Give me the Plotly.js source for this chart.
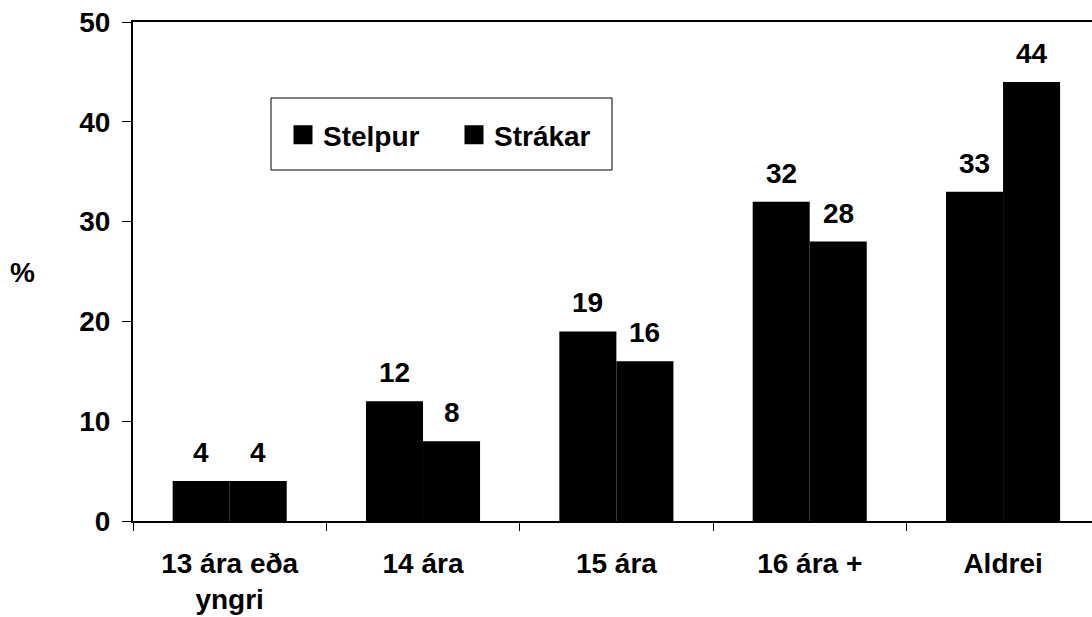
<!DOCTYPE html>
<html>
<head>
<meta charset="utf-8">
<script src="https://cdn.plot.ly/plotly-3.0.1.min.js"></script>
<style>html,body{margin:0;padding:0;background:#fff;}#chart{width:1092px;height:617px;}</style>
</head>
<body>
<div id="chart"></div>
<script>
const categories = ["13 ára eða<br>yngri", "14 ára", "15 ára", "16 ára +", "Aldrei"];
const seriesNames = ["Stelpur", "Strákar"];
const stelpur = [4, 12, 19, 32, 33];
const strakar = [4, 8, 16, 28, 44];
const yTicks = [0, 10, 20, 30, 40, 50];

const FONT = "Liberation Sans, Arial, sans-serif";
const font = {family: FONT, size: 28, color: "#000", weight: "bold"};

const traces = [
  {type: "bar", name: seriesNames[0], x: categories, y: stelpur, marker: {color: "#000"}, showlegend: false, hoverinfo: "none"},
  {type: "bar", name: seriesNames[1], x: categories, y: strakar, marker: {color: "#000"}, showlegend: false, hoverinfo: "none"},
  // legend entries
  {type: "scatter", mode: "markers", name: seriesNames[0], x: [null], y: [null], marker: {symbol: "square", size: 16, color: "#000", line: {color: "#000", width: 3}}},
  {type: "scatter", mode: "markers", name: seriesNames[1], x: [null], y: [null], marker: {symbol: "square", size: 16, color: "#000", line: {color: "#000", width: 3}}}
];

const barPx = 57;  // group width in px (two bars)
const annotations = [];
[stelpur, strakar].forEach((vals, s) => {
  vals.forEach((v, i) => {
    annotations.push({
      x: categories[i], y: v, xref: "x", yref: "y",
      text: String(v), showarrow: false,
      xanchor: "center", yanchor: "bottom",
      xshift: (s === 0 ? -1 : 1) * barPx / 2, yshift: 11,
      font: font
    });
  });
});
annotations.push({
  xref: "paper", yref: "paper", x: (22 - 133) / 959, y: (521 - 272) / 499,
  text: "%", showarrow: false, xanchor: "center", yanchor: "middle", font: font
});

const layout = {
  width: 1092, height: 617,
  margin: {l: 133, r: 0, t: 22, b: 96, pad: 0},
  paper_bgcolor: "#fff", plot_bgcolor: "#fff",
  font: font,
  barmode: "group", bargap: 0.41, bargroupgap: 0,
  showlegend: true,
  legend: {
    orientation: "h", x: (283 - 133) / 959, xanchor: "left",
    y: (521 - 135) / 499, yanchor: "middle",
    font: font, bgcolor: "rgba(0,0,0,0)", borderwidth: 0,
    entrywidth: 126, entrywidthmode: "pixels", itemclick: false
  },
  xaxis: {
    type: "category", range: [-0.5, 4.46], autorange: false,
    showline: true, linecolor: "#000", linewidth: 2, mirror: true,
    ticks: "outside", tickson: "boundaries", ticklen: 8, tickcolor: "#000", tickwidth: 1,
    tickfont: font, ticklabelstandoff: 16,
    showgrid: false, zeroline: false, fixedrange: true
  },
  yaxis: {
    range: [0, 50], autorange: false,
    tickvals: yTicks, ticktext: yTicks.map(String),
    showline: true, linecolor: "#000", linewidth: 2, mirror: false,
    ticks: "outside", ticklen: 9, tickcolor: "#000", tickwidth: 1,
    tickfont: font, ticklabelstandoff: 6,
    showgrid: false, zeroline: false, fixedrange: true
  },
  shapes: [
    {type: "rect", xref: "paper", yref: "paper",
     x0: (271 - 133) / 959, x1: (612 - 133) / 959,
     y0: (521 - 170) / 499, y1: (521 - 98) / 499,
     line: {color: "#000", width: 1}, fillcolor: "rgba(0,0,0,0)"}
  ],
  annotations: annotations
};

Plotly.newPlot("chart", traces, layout, {staticPlot: true, displayModeBar: false});
</script>
</body>
</html>
